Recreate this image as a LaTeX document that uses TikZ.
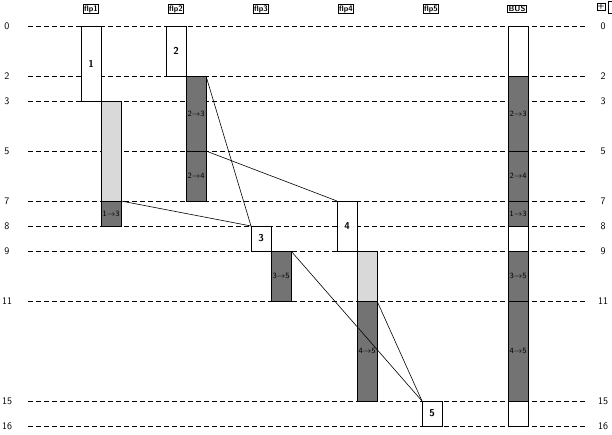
\documentclass[tikz,border=0pt]{standalone}

% one slot of the time chart: style, name, x-centre, t-from, t-to, text
\newcommand{\tslot}[6]{%
  \node[#1, minimum height={25pt*(#5-#4)}] (#2) at (#3,{26+12.5*(#4+#5)}) {#6};}

\begin{document}
\begin{tikzpicture}[x=1pt,y=-1pt,
  grid/.style={dash pattern=on 5pt off 3pt, line width=0.7pt},
  bar/.style={draw, line width=0.8pt, minimum width=20pt, inner sep=0pt, outer sep=0pt},
  task/.style={bar, fill=white, font=\sffamily\bfseries},
  comm/.style={bar, fill=black!55, font=\sffamily\footnotesize},
  wait/.style={bar, fill=black!15},
  head/.style={draw, line width=0.8pt, inner sep=0.8pt, font=\sffamily\bfseries\footnotesize},
  tick/.style={font=\sffamily},
  link/.style={line width=0.6pt}]
\useasboundingbox (0,0) rectangle (612,435);

% time grid
\foreach \t in {0,2,3,5,7,8,9,11,15,16} {
  \draw[grid] (28,26+25*\t) -- (585,26+25*\t);
  \node[tick] (l\t) at (7,26+25*\t) {\t};
  \node[tick] (r\t) at (603,26+25*\t) {\t};
}

% headers
\node[head] (h1) at (91,9) {flp1};
\node[head] (h2) at (176,9) {flp2};
\node[head] (h3) at (261,9) {flp3};
\node[head] (h4) at (346,9) {flp4};
\node[head] (h5) at (431,9) {flp5};
\node[head] (hb) at (517,9) {BUS};
\node[head, inner sep=0.5pt] (plus) at (601,7) {+};
\draw[line width=0.8pt] (608,1) rectangle (616,13);

% processors
\tslot{task}{t1}{91}{0}{3}{1}
\tslot{wait}{w1}{111}{3}{7}{}
\tslot{comm}{c13}{111}{7}{8}{1$\to$3}
\tslot{task}{t2}{176}{0}{2}{2}
\tslot{comm}{c23}{196}{2}{5}{2$\to$3}
\tslot{comm}{c24}{196}{5}{7}{2$\to$4}
\tslot{task}{t3}{261}{8}{9}{3}
\tslot{comm}{c35}{281}{9}{11}{3$\to$5}
\tslot{task}{t4}{347}{7}{9}{4}
\tslot{wait}{w4}{367}{9}{11}{}
\tslot{comm}{c45}{367}{11}{15}{4$\to$5}
\tslot{task}{t5}{432}{15}{16}{5}

% bus
\tslot{task}{b0}{518}{0}{2}{}
\tslot{comm}{b23}{518}{2}{5}{2$\to$3}
\tslot{comm}{b24}{518}{5}{7}{2$\to$4}
\tslot{comm}{b13}{518}{7}{8}{1$\to$3}
\tslot{task}{b8}{518}{8}{9}{}
\tslot{comm}{b35}{518}{9}{11}{3$\to$5}
\tslot{comm}{b45}{518}{11}{15}{4$\to$5}
\tslot{task}{b15}{518}{15}{16}{}

% messages
\draw[link] (c23.north east) -- (t3.north west);
\draw[link] (c13.north east) -- (t3.north west);
\draw[link] (c24.north east) -- (t4.north west);
\draw[link] (c35.north east) -- (t5.north west);
\draw[link] (c45.north east) -- (t5.north west);
\end{tikzpicture}
\end{document}
